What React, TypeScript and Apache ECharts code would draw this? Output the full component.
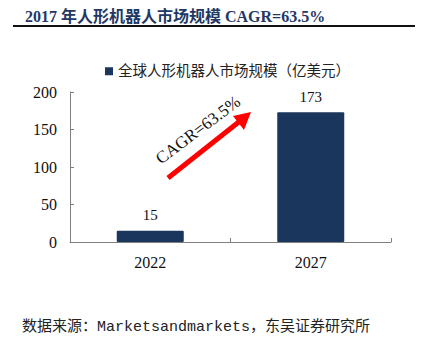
import React, { useEffect, useRef } from "react";
import * as echarts from "echarts";

const categories = ["2022", "2027"];
const marketSize = [15, 173];
const yTicks = [0, 50, 100, 150, 200];
const titleText = "2017 年人形机器人市场规模 CAGR=63.5%";
const legendName = "全球人形机器人市场规模（亿美元）";
const cagrText = "CAGR=63.5%";
const sourceText = "数据来源：Marketsandmarkets，东吴证券研究所";

const SERIF = "'Liberation Serif', 'Times New Roman', 'Noto Sans CJK SC', serif";
const BAR = "#1b365d";

export default function App() {
  const ref = useRef<HTMLDivElement>(null);
  useEffect(() => {
    if (!ref.current) return;
    const chart = echarts.init(ref.current, null, { renderer: "svg" });
    chart.setOption({
      animation: false,
      backgroundColor: "#ffffff",
      title: {
        text: titleText,
        left: 20,
        top: 3,
        textStyle: { fontFamily: SERIF, fontSize: 16, fontWeight: "bold", color: "#1f3864" },
      },
      legend: {
        data: [legendName],
        left: 100,
        top: 59,
        icon: "rect",
        itemWidth: 8,
        itemHeight: 8,
        textStyle: { fontFamily: SERIF, fontSize: 14.5, color: "#222" },
      },
      grid: { left: 70, right: 31, top: 92, bottom: 112, containLabel: false },
      xAxis: {
        type: "category",
        data: categories,
        axisLine: { lineStyle: { color: "#7f7f7f", width: 1 } },
        axisTick: { show: true, inside: true, length: 4, lineStyle: { color: "#7f7f7f" } },
        axisLabel: { fontFamily: SERIF, fontSize: 16, color: "#111", margin: 12 },
      },
      yAxis: {
        type: "value",
        min: yTicks[0],
        max: yTicks[yTicks.length - 1],
        interval: 50,
        axisLine: { show: true, lineStyle: { color: "#7f7f7f", width: 1 } },
        axisTick: { show: true, inside: true, length: 4, lineStyle: { color: "#7f7f7f" } },
        splitLine: { show: false },
        axisLabel: { fontFamily: SERIF, fontSize: 16, color: "#111", margin: 13 },
      },
      series: [
        {
          name: legendName,
          type: "bar",
          data: marketSize,
          barWidth: 67,
          itemStyle: { color: BAR, borderRadius: 1 },
          label: {
            show: true,
            position: "top",
            distance: 8,
            fontFamily: SERIF,
            fontSize: 15,
            color: "#111",
          },
        },
      ],
      graphic: [
        {
          type: "line",
          shape: { x1: 13, y1: 26, x2: 415, y2: 26 },
          style: { stroke: "#111", lineWidth: 2 },
        },
        {
          type: "line",
          shape: { x1: 168, y1: 178, x2: 240, y2: 121 },
          style: { stroke: "#ff0000", lineWidth: 5 },
        },
        {
          type: "polygon",
          shape: { points: [[251, 112], [233, 116], [244, 130]] },
          style: { fill: "#ff0000" },
        },
        {
          type: "text",
          x: 198,
          y: 130,
          rotation: (37 * Math.PI) / 180,
          style: {
            text: cagrText,
            fontFamily: SERIF,
            fontSize: 17,
            fill: "#111",
            align: "center",
            verticalAlign: "middle",
          },
        },
        {
          type: "text",
          left: 22,
          top: 320,
          style: {
            text: sourceText,
            fontFamily: "'Liberation Mono', 'Noto Sans CJK SC', monospace",
            fontSize: 15,
            fill: "#222",
          },
        },
      ],
    });
    return () => chart.dispose();
  }, []);
  return (
    <div
      ref={ref}
      style={{ position: "absolute", left: 0, top: 0, width: 422, height: 354 }}
    />
  );
}
